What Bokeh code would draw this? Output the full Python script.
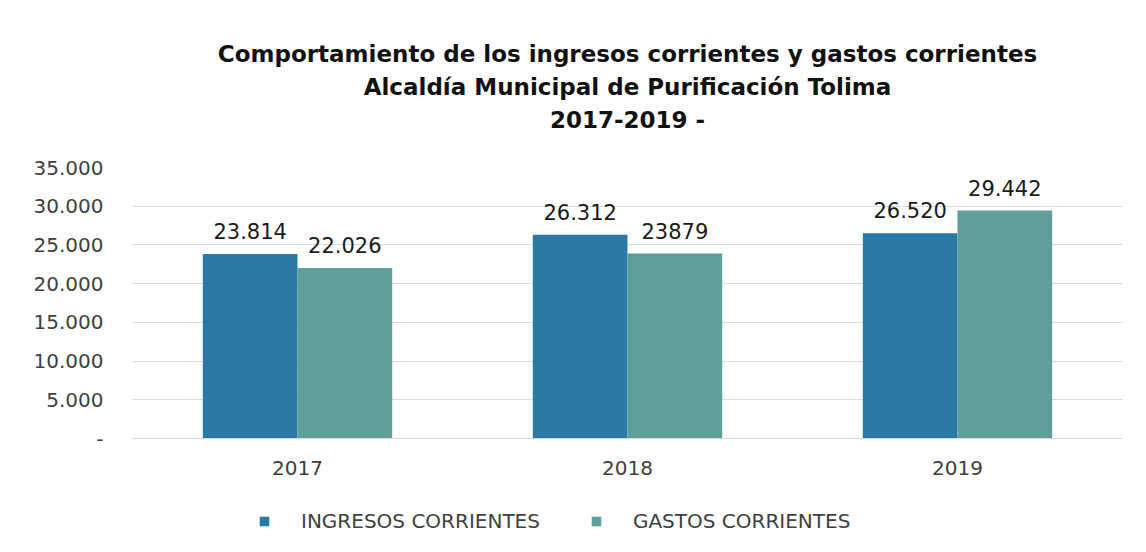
from bokeh.plotting import figure
from bokeh.layouts import column
from bokeh.models import (ColumnDataSource, FactorRange, Range1d, FixedTicker, Title,
                          Legend, LegendItem)
from bokeh.transform import dodge
from bokeh.core.properties import value
from bokeh.embed import file_html
from bokeh.resources import INLINE

years = ["2017", "2018", "2019"]
ingresos = [23814, 26312, 26520]
gastos = [22026, 23879, 29442]
ingresos_labels = ["23.814", "26.312", "26.520"]
gastos_labels = ["22.026", "23879", "29.442"]
y_ticks = [0, 5000, 10000, 15000, 20000, 25000, 30000, 35000]
y_tick_labels = ["-", "5.000", "10.000", "15.000", "20.000", "25.000", "30.000", "35.000"]
title_lines = ["Comportamiento de los ingresos corrientes y gastos corrientes",
               "Alcaldía Municipal de Purificación Tolima",
               "2017-2019 -"]
series_names = ["INGRESOS CORRIENTES", "GASTOS CORRIENTES"]

C_ING = "#2b7aa6"
C_GAS = "#5e9e9b"
FONT = "DejaVu Sans"

src = ColumnDataSource(dict(years=years, ingresos=ingresos, gastos=gastos,
                            il=ingresos_labels, gl=gastos_labels))

chart = figure(x_range=FactorRange(*years), y_range=Range1d(0, 35000),
               width=1130, height=488, frame_width=990, frame_height=271,
               output_backend="svg", toolbar_location=None,
               min_border_left=132, min_border_right=8, min_border_top=167,
               min_border_bottom=50)

def style_title(t, standoff, size="23px"):
    t.align = "center"
    t.offset = -46
    t.text_font = FONT
    t.text_font_size = size
    t.text_font_style = "bold"
    t.text_color = "#111111"
    t.standoff = standoff

spacer = Title(text=" ")
style_title(spacer, 16, "12px")
chart.add_layout(spacer, "above")
t3 = Title(text=title_lines[2])
style_title(t3, 5)
chart.add_layout(t3, "above")
t2 = Title(text=title_lines[1])
style_title(t2, 5)
chart.add_layout(t2, "above")
chart.title.text = title_lines[0]
style_title(chart.title, 5)

w = 0.287
chart.vbar(x=dodge("years", -w / 2, range=chart.x_range), top="ingresos", width=w,
           source=src, color=C_ING, line_color=None)
chart.vbar(x=dodge("years", w / 2, range=chart.x_range), top="gastos", width=w,
           source=src, color=C_GAS, line_color=None)

chart.text(x=dodge("years", -w / 2, range=chart.x_range), y="ingresos", text="il", source=src,
           text_align="center", text_baseline="bottom", y_offset=-15,
           text_font=value(FONT), text_font_size="21px", text_color="#1a1a1a")
chart.text(x=dodge("years", w / 2, range=chart.x_range), y="gastos", text="gl", source=src,
           text_align="center", text_baseline="bottom", y_offset=-15,
           text_font=value(FONT), text_font_size="21px", text_color="#1a1a1a")

chart.yaxis.ticker = FixedTicker(ticks=y_ticks)
chart.yaxis.major_label_overrides = {t: l for t, l in zip(y_ticks, y_tick_labels)}
chart.yaxis.axis_line_color = None
chart.yaxis.major_tick_line_color = None
chart.yaxis.minor_tick_line_color = None
chart.yaxis.major_label_text_font = FONT
chart.yaxis.major_label_text_font_size = "20px"
chart.yaxis.major_label_text_color = "#404040"
chart.yaxis.major_label_standoff = 23

chart.xaxis.axis_line_color = "#d9d9d9"
chart.xaxis.major_tick_line_color = None
chart.xaxis.minor_tick_line_color = None
chart.xaxis.major_label_text_font = FONT
chart.xaxis.major_label_text_font_size = "20px"
chart.xaxis.major_label_text_color = "#404040"
chart.xaxis.major_label_standoff = 16

chart.xgrid.grid_line_color = None
chart.ygrid.grid_line_color = "#dcdcdc"
chart.outline_line_color = None
chart.x_range.range_padding = 0
chart.x_range.group_padding = 0

# legend strip below the chart (swatch renderers lie outside the visible range)
leg = figure(width=1130, height=48, output_backend="svg", toolbar_location=None,
             x_range=Range1d(0, 1), y_range=Range1d(0, 1),
             min_border_left=0, min_border_right=0, min_border_top=0, min_border_bottom=0)
leg.axis.visible = False
leg.grid.visible = False
leg.outline_line_color = None
lr1 = leg.vbar(x=[-10], top=[0], width=0.1, color=C_ING, line_color=None)
lr2 = leg.vbar(x=[-10], top=[0], width=0.1, color=C_GAS, line_color=None)
legend = Legend(items=[LegendItem(label=series_names[0], renderers=[lr1]),
                       LegendItem(label=series_names[1], renderers=[lr2])],
                orientation="horizontal", location=(126, 3),
                label_text_font=FONT, label_text_font_size="20px",
                label_text_color="#404040", glyph_width=12, glyph_height=12,
                spacing=50, label_standoff=31, border_line_color=None,
                background_fill_alpha=0, margin=0, padding=4)
leg.add_layout(legend)

p = column(chart, leg, spacing=0)

open("out.html", "w").write(file_html(p, INLINE))
